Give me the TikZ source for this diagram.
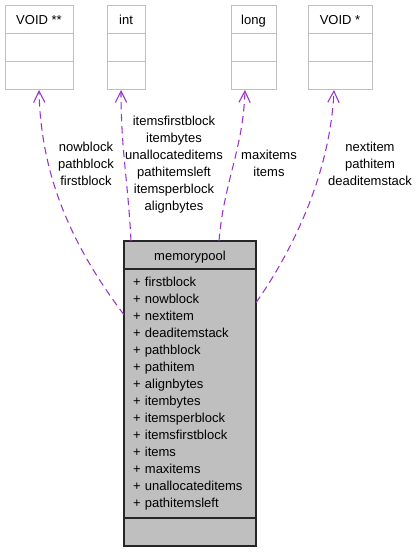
\documentclass[tikz,border=0pt]{standalone}
\usepackage{fontspec}
\setmainfont{Liberation Sans}
\usetikzlibrary{positioning,arrows.meta}

\definecolor{edgepurple}{HTML}{9A32CD}
\definecolor{boxgray}{HTML}{BFBFBF}
\definecolor{lightedge}{HTML}{BFBFBF}

\tikzstyle{typebox} = [rectangle, draw=lightedge, line width=0.75pt, outer sep=0pt, minimum height=21pt, inner sep=0pt, text height=7.5pt, text depth=0pt, text centered, font=\fontsize{9.75}{12.75}\selectfont]
\tikzstyle{classbox} = [rectangle, draw=black!85, line width=1.1pt, fill=boxgray, outer sep=0pt, minimum width=99pt, minimum height=21pt, inner sep=0pt, text height=7.5pt, text depth=0pt, text centered, font=\fontsize{9.75}{12.75}\selectfont]
\tikzstyle{attrbox} = [rectangle, draw=black!85, line width=1.1pt, fill=boxgray, outer sep=0pt, minimum width=99pt, minimum height=186.75pt, text width=85.5pt, inner xsep=6.75pt, inner ysep=0pt, align=left, font=\fontsize{9.75}{12.75}\selectfont]
\tikzstyle{usage} = [edgepurple, line width=0.8pt, dash pattern=on 5.5pt off 3.5pt, -{Straight Barb[length=8.5pt,width=8.5pt]}]
\tikzstyle{edgelabel} = [align=center, inner sep=0pt, font=\fontsize{9.75}{12.75}\selectfont]

\begin{document}
\begin{tikzpicture}[x=0.75pt, y=-0.75pt]
	\useasboundingbox (0,0) rectangle (419,552);

	% used types
	\node (voidpp) [typebox, minimum width=51pt] at (39,20) {VOID **};
	\node (voidpp2) [typebox, minimum width=51pt, below=0pt of voidpp] {};
	\node (voidpp3) [typebox, minimum width=51pt, below=0pt of voidpp2] {};
	\node (intt) [typebox, minimum width=28.5pt] at (126,20) {int};
	\node (intt2) [typebox, minimum width=28.5pt, below=0pt of intt] {};
	\node (intt3) [typebox, minimum width=28.5pt, below=0pt of intt2] {};
	\node (longt) [typebox, minimum width=33.75pt] at (253.5,20) {long};
	\node (longt2) [typebox, minimum width=33.75pt, below=0pt of longt] {};
	\node (longt3) [typebox, minimum width=33.75pt, below=0pt of longt2] {};
	\node (voidp) [typebox, minimum width=48pt] at (340,20) {VOID *};
	\node (voidp2) [typebox, minimum width=48pt, below=0pt of voidp] {};
	\node (voidp3) [typebox, minimum width=48pt, below=0pt of voidp2] {};

	% the class
	\node (mp) [classbox] at (190,255) {memorypool};
	\node (mpattr) [attrbox, below=0pt of mp] {+ firstblock\\+ nowblock\\+ nextitem\\+ deaditemstack\\+ pathblock\\+ pathitem\\+ alignbytes\\+ itembytes\\+ itemsperblock\\+ itemsfirstblock\\+ items\\+ maxitems\\+ unallocateditems\\+ pathitemsleft};
	\node (mpops) [classbox, below=0pt of mpattr] {};

	% usage edges
	\draw [usage] (mpattr.130) .. controls +(-42,-56) and +(2,98) .. (voidpp3.south);
	\draw [usage] ([xshift=5.25pt]mp.north west) .. controls +(-3,-60) and +(0,60) .. ([xshift=-3.75pt]intt3.south);
	\draw [usage] ([xshift=21.75pt]mp.north) .. controls +(5,-60) and +(-2,60) .. ([xshift=-6.375pt]longt3.south);
	\draw [usage] (mpattr.54) .. controls +(33,-47) and +(-4,88) .. ([xshift=-4.5pt]voidp3.south);

	\node (lblvoidpp) [edgelabel] at (86,164) {nowblock\\pathblock\\firstblock};
	\node (lblint) [edgelabel] at (174,164.5) {itemsfirstblock\\itembytes\\unallocateditems\\pathitemsleft\\itemsperblock\\alignbytes};
	\node (lbllong) [edgelabel] at (269,163.5) {maxitems\\items};
	\node (lblvoidp) [edgelabel] at (370,164) {nextitem\\pathitem\\deaditemstack};

\end{tikzpicture}
\end{document}
